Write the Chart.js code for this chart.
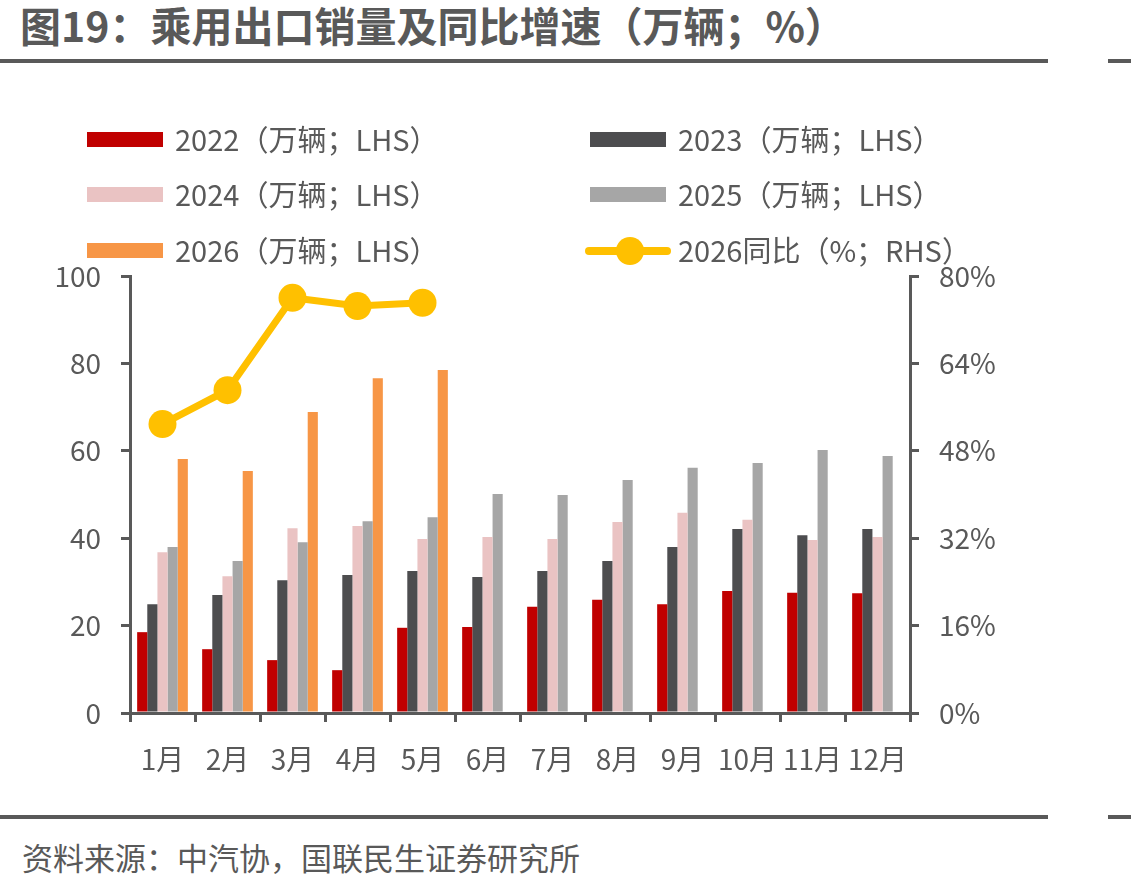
<!DOCTYPE html>
<html>
<head>
<meta charset="utf-8">
<script src="https://cdn.jsdelivr.net/npm/chart.js@4.4.1/dist/chart.umd.min.js"></script>
<style>
  html, body { margin: 0; padding: 0; background: #fff; }
  body { width: 1131px; height: 885px; position: relative; overflow: hidden;
         font-family: "Noto Sans CJK SC", "Noto Sans", sans-serif; color: #595959; }
  #title { position: absolute; left: 20px; top: -6px; font-size: 41px; font-weight: bold; color: #595959; white-space: nowrap; }
  .rule { position: absolute; height: 4px; background: #595959; }
  #source { position: absolute; left: 22px; top: 834px; font-size: 31px; color: #595959; white-space: nowrap; }
  .leg { position: absolute; font-size: 29px; white-space: nowrap; line-height: 30px; }
  .box { position: absolute; width: 76px; height: 15px; }
  #wrap { position: absolute; left: 0; top: 0; width: 1131px; height: 885px; }
</style>
</head>
<body>
<div id="title">图19：乘用出口销量及同比增速（万辆；%）</div>
<div class="rule" style="left:0;top:59px;width:1048px"></div>
<div class="rule" style="left:1108px;top:59px;width:23px"></div>
<div class="rule" style="left:0;top:815px;width:1048px"></div>
<div class="rule" style="left:1108px;top:815px;width:23px"></div>
<div id="source">资料来源：中汽协，国联民生证券研究所</div>
<div id="wrap"><canvas id="myChart" width="1131" height="885"></canvas></div>
<div id="legend"></div>
<script>
const months = ["1月", "2月", "3月", "4月", "5月", "6月", "7月", "8月", "9月", "10月", "11月", "12月"];
const sales2022 = [18.5, 14.6, 12.1, 9.8, 19.5, 19.7, 24.3, 25.9, 24.9, 27.9, 27.5, 27.4];
const sales2023 = [24.9, 27.0, 30.4, 31.6, 32.5, 31.1, 32.5, 34.8, 38.0, 42.1, 40.7, 42.1];
const sales2024 = [36.8, 31.3, 42.3, 42.8, 39.8, 40.3, 39.8, 43.7, 45.8, 44.2, 39.6, 40.3];
const sales2025 = [38.0, 34.8, 39.1, 43.9, 44.8, 50.1, 49.9, 53.3, 56.1, 57.2, 60.2, 58.8];
const sales2026 = [58.1, 55.4, 68.9, 76.6, 78.5, null, null, null, null, null, null, null];
const yoy2026 = [52.9, 59.1, 76.0, 74.5, 75.1, null, null, null, null, null, null, null];
const leftTicks = [0, 20, 40, 60, 80, 100];
const rightTicks = [0, 16, 32, 48, 64, 80];

const gray = "#595959";
const font = { family: "'Noto Sans CJK SC', 'Noto Sans', sans-serif", size: 28 };

const barSets = [
  { label: "2022（万辆；LHS）", data: sales2022, color: "#C00000" },
  { label: "2023（万辆；LHS）", data: sales2023, color: "#4D4D4F" },
  { label: "2024（万辆；LHS）", data: sales2024, color: "#EAC3C3" },
  { label: "2025（万辆；LHS）", data: sales2025, color: "#A6A6A6" },
  { label: "2026（万辆；LHS）", data: sales2026, color: "#F79646" }
];
const lineLabel = "2026同比（%；RHS）";

// html legend, two columns
const legend = document.getElementById("legend");
const legendSlots = [[87, 140], [590, 140], [87, 195], [590, 195], [87, 251], [590, 251]];
barSets.forEach(function (s, i) {
  const p = legendSlots[i];
  legend.insertAdjacentHTML("beforeend",
    '<div class="box" style="left:' + p[0] + 'px;top:' + (p[1] - 8) + 'px;background:' + s.color + '"></div>' +
    '<div class="leg" style="left:' + (p[0] + 88) + 'px;top:' + (p[1] - 17) + 'px">' + s.label + '</div>');
});
legend.insertAdjacentHTML("beforeend",
  '<div style="position:absolute;left:585px;top:247px;width:86px;height:8px;border-radius:4px;background:#FFC000"></div>' +
  '<div style="position:absolute;left:616px;top:237px;width:28px;height:28px;border-radius:50%;background:#FFC000"></div>' +
  '<div class="leg" style="left:678px;top:234px">' + lineLabel + '</div>');

const axisGrid = { drawOnChartArea: false, drawTicks: true, tickLength: 9, color: gray, lineWidth: 3 };
const axisBorder = { color: gray, width: 3 };

const datasets = barSets.map(function (s) {
  return {
    type: "bar", label: s.label, data: s.data, backgroundColor: s.color,
    yAxisID: "y", order: 1, categoryPercentage: 0.78, barPercentage: 1.0
  };
});
datasets.push({
  type: "line", label: lineLabel, data: yoy2026, yAxisID: "y1", order: 0,
  borderColor: "#FFC000", backgroundColor: "#FFC000", borderWidth: 7,
  pointRadius: 14, pointHoverRadius: 14, pointBackgroundColor: "#FFC000", pointBorderWidth: 0,
  tension: 0, spanGaps: false
});

new Chart(document.getElementById("myChart"), {
  data: { labels: months, datasets: datasets },
  options: {
    responsive: false,
    animation: false,
    devicePixelRatio: 1,
    layout: { padding: { top: 276, left: 0, right: 0, bottom: 0 } },
    plugins: { legend: { display: false }, tooltip: { enabled: false } },
    scales: {
      x: {
        grid: Object.assign({ offset: true }, axisGrid),
        border: axisBorder,
        ticks: { color: gray, font: font, padding: 21, maxRotation: 0, autoSkip: false },
        afterFit: function (s) { s.height = 172; }
      },
      y: {
        position: "left", min: 0, max: 100,
        grid: axisGrid, border: axisBorder,
        afterBuildTicks: function (s) { s.ticks = leftTicks.map(function (v) { return { value: v }; }); },
        ticks: { color: gray, font: font, padding: 20 },
        afterFit: function (s) { s.width = 130; }
      },
      y1: {
        position: "right", min: 0, max: 80,
        grid: axisGrid, border: axisBorder,
        afterBuildTicks: function (s) { s.ticks = rightTicks.map(function (v) { return { value: v }; }); },
        ticks: { color: gray, font: font, padding: 20, callback: function (v) { return v + "%"; } },
        afterFit: function (s) { s.width = 221; }
      }
    }
  }
});
</script>
</body>
</html>
